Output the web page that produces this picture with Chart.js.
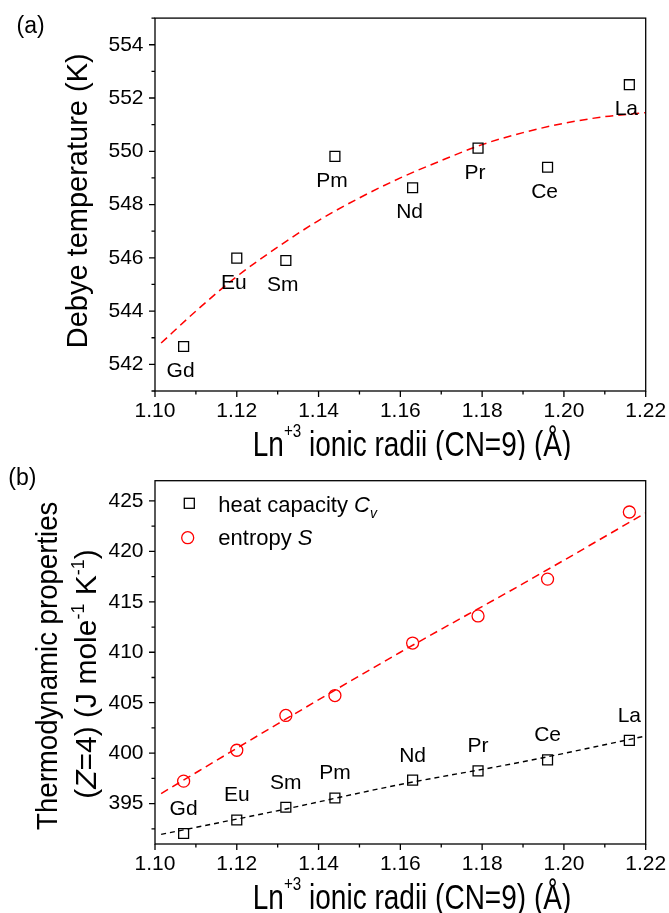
<!DOCTYPE html>
<html>
<head>
<meta charset="utf-8">
<script src="https://cdn.jsdelivr.net/npm/chart.js@4.4.1/dist/chart.umd.min.js"></script>
<style>
    html, body { margin: 0; padding: 0; background: #fff; }
    #wrap { position: relative; width: 669px; height: 913px; overflow: hidden; }
    canvas { position: absolute; left: 0; }
    #debyeChart { top: 0; }
    #thermoChart { top: 450px; }
</style>
</head>
<body>
<div id="wrap">
    <canvas id="debyeChart" width="669" height="460"></canvas>
    <canvas id="thermoChart" width="669" height="463"></canvas>
</div>
<script>
const elements = ['Gd', 'Eu', 'Sm', 'Pm', 'Nd', 'Pr', 'Ce', 'La'];
const ionicRadii = [1.107, 1.120, 1.132, 1.144, 1.163, 1.179, 1.196, 1.216];

// panel (a)
const debyeTemp = [542.67, 545.99, 545.90, 549.81, 548.63, 550.12, 549.40, 552.50];
const debyeFitRadii = [1.1015, 1.11, 1.12, 1.13, 1.14, 1.15, 1.16, 1.17, 1.18, 1.19, 1.20, 1.21, 1.22];
const debyeFit = [542.8, 544.0, 545.3, 546.4, 547.4, 548.25, 549.0, 549.65, 550.25, 550.7, 551.05, 551.3, 551.45];

// panel (b)
const heatCapacity = [392.04, 393.38, 394.64, 395.56, 397.33, 398.25, 399.34, 401.27];
const entropy = [397.23, 400.29, 403.74, 405.71, 410.91, 413.60, 417.25, 423.90];
const thermoFitRadii = [1.1015, 1.13, 1.16, 1.19, 1.22];
const heatFit = [391.95, 394.3, 396.9, 399.15, 401.7];
const entropyFit = [396.0, 402.9, 410.0, 416.8, 423.8];

const FONT = "'Liberation Sans', Arial, Helvetica, sans-serif";
const RED = '#ff0000';

function font(size, italic) {
    return (italic ? 'italic ' : '') + size + 'px ' + FONT;
}

function pts(xs, ys) {
    return xs.map((x, i) => ({ x: x, y: ys[i] }));
}

// runs: [text, size, italic, dy]
function drawRuns(ctx, runs, x, y, align, sx) {
    sx = sx || 1;
    let w = 0;
    runs.forEach(r => { ctx.font = font(r[1], r[2]); w += ctx.measureText(r[0]).width; });
    ctx.save();
    ctx.translate(x, y);
    ctx.scale(sx, 1);
    let cx = align === 'center' ? -w / 2 : 0;
    ctx.textAlign = 'left';
    ctx.textBaseline = 'alphabetic';
    ctx.fillStyle = '#000';
    runs.forEach(r => {
        ctx.font = font(r[1], r[2]);
        ctx.fillText(r[0], cx, r[3] || 0);
        cx += ctx.measureText(r[0]).width;
    });
    ctx.restore();
}

// box + outward major/minor ticks
const framePlugin = {
    id: 'frame',
    afterDraw(chart) {
        const { ctx, chartArea: a, scales: { x, y } } = chart;
        ctx.save();
        ctx.strokeStyle = '#000';
        ctx.lineWidth = 1.3;
        ctx.strokeRect(a.left, a.top, a.right - a.left, a.bottom - a.top);
        ctx.beginPath();
        x.ticks.forEach(t => {
            const px = x.getPixelForValue(t.value);
            ctx.moveTo(px, a.bottom);
            ctx.lineTo(px, a.bottom + (t.label !== '' ? 6 : 3.5));
        });
        y.ticks.forEach(t => {
            const py = y.getPixelForValue(t.value);
            ctx.moveTo(a.left, py);
            ctx.lineTo(a.left - (t.label !== '' ? 6 : 3.5), py);
        });
        ctx.stroke();

        // x title
        drawRuns(ctx, [['Ln', 35], ['+3', 19, false, -19], [' ionic radii (CN=9) (\u00c5)', 35]],
            412, a.bottom + 64.5, 'center', 0.8);
        ctx.restore();
    }
};

function xScale() {
    return {
        type: 'linear', min: 1.10, max: 1.22,
        grid: { display: false, drawTicks: true, tickLength: 6 },
        border: { display: false },
        ticks: {
            stepSize: 0.01, autoSkip: false, maxRotation: 0, padding: 2,
            color: '#000', font: { family: FONT, size: 21 },
            callback: v => (Math.round(v * 100) % 2 === 0 ? v.toFixed(2) : '')
        },
        afterFit: s => { s.height = 69; }
    };
}

function yScale(min, max, step, major) {
    return {
        type: 'linear', min: min, max: max,
        grid: { display: false, drawTicks: true, tickLength: 6 },
        border: { display: false },
        ticks: {
            stepSize: step, includeBounds: false, autoSkip: false, padding: 5.5,
            color: '#000', font: { family: FONT, size: 21 },
            callback: v => (Math.abs(v / major - Math.round(v / major)) < 1e-6 ? String(v) : '')
        },
        afterFit: s => { s.width = 155; }
    };
}

const baseOptions = {
    responsive: false,
    animation: false,
    plugins: { legend: { display: false }, tooltip: { enabled: false } }
};

// ---------- panel (a) ----------
const debyeText = {
    id: 'debyeText',
    afterDraw(chart) {
        const ctx = chart.ctx;
        const meta = chart.getDatasetMeta(0);
        ctx.save();
        ctx.fillStyle = '#000';
        ctx.font = font(21);
        ctx.textAlign = 'center';
        ctx.textBaseline = 'alphabetic';
        meta.data.forEach((p, i) => ctx.fillText(elements[i], p.x - 3, p.y + 30.5));

        drawRuns(ctx, [['(a)', 23]], 16.5, 32.5, 'left');

        ctx.translate(87.3, 200.8);
        ctx.rotate(-Math.PI / 2);
        drawRuns(ctx, [['Debye temperature (K)', 29]], 0, 0, 'center');
        ctx.restore();
    }
};

new Chart(document.getElementById('debyeChart'), {
    type: 'scatter',
    data: {
        datasets: [{
            data: pts(ionicRadii, debyeTemp),
            pointStyle: 'rect', pointRadius: 7, borderWidth: 1.3,
            borderColor: '#000', backgroundColor: 'rgba(0,0,0,0)'
        }, {
            data: pts(debyeFitRadii, debyeFit),
            showLine: true, pointRadius: 0, borderColor: RED, borderWidth: 1.5,
            borderDash: [8, 5], cubicInterpolationMode: 'monotone'
        }]
    },
    options: Object.assign({}, baseOptions, {
        layout: { padding: { left: 0, right: 23.3, top: 16.7, bottom: 0 } },
        scales: { x: xScale(), y: yScale(541, 555, 1, 2) }
    }),
    plugins: [framePlugin, debyeText]
});

// ---------- panel (b) ----------
const thermoText = {
    id: 'thermoText',
    afterDraw(chart) {
        const ctx = chart.ctx;
        const a = chart.chartArea;
        const meta = chart.getDatasetMeta(0);
        ctx.save();
        ctx.fillStyle = '#000';
        ctx.font = font(21);
        ctx.textAlign = 'center';
        ctx.textBaseline = 'alphabetic';
        meta.data.forEach((p, i) => ctx.fillText(elements[i], p.x, p.y - 18.5));

        // legend
        ctx.lineWidth = 1.3;
        ctx.strokeStyle = '#000';
        ctx.strokeRect(a.left + 34.3 - 5, a.top + 22.6 - 5, 10, 10);
        ctx.strokeStyle = RED;
        ctx.beginPath();
        ctx.arc(a.left + 32.7, a.top + 57, 6, 0, Math.PI * 2);
        ctx.stroke();
        drawRuns(ctx, [['heat capacity ', 22], ['C', 22, true], ['v', 14, true, 6]], a.left + 63.3, a.top + 31, 'left');
        drawRuns(ctx, [['entropy ', 22], ['S', 22, true]], a.left + 63.3, a.top + 64.3, 'left');

        drawRuns(ctx, [['(b)', 23]], 8.3, 35, 'left');

        ctx.save();
        ctx.translate(57.3, 215.8);
        ctx.rotate(-Math.PI / 2);
        drawRuns(ctx, [['Thermodynamic properties', 30]], 0, 0, 'center', 0.92);
        ctx.restore();

        ctx.translate(96, 224);
        ctx.rotate(-Math.PI / 2);
        drawRuns(ctx, [['(', 30], ['Z', 30, true], ['=4) (J mole', 30], ['-1', 18, false, -12],
            [' K', 30], ['-1', 18, false, -12], [')', 30]], 0, 0, 'center');
        ctx.restore();
    }
};

new Chart(document.getElementById('thermoChart'), {
    type: 'scatter',
    data: {
        datasets: [{
            data: pts(ionicRadii, heatCapacity),
            pointStyle: 'rect', pointRadius: 7, borderWidth: 1.3,
            borderColor: '#000', backgroundColor: 'rgba(0,0,0,0)'
        }, {
            data: pts(ionicRadii, entropy),
            pointStyle: 'circle', pointRadius: 6, borderWidth: 1.3,
            borderColor: RED, backgroundColor: 'rgba(0,0,0,0)'
        }, {
            data: pts(thermoFitRadii, heatFit),
            showLine: true, pointRadius: 0, borderColor: '#000', borderWidth: 1.4,
            borderDash: [5, 4], cubicInterpolationMode: 'monotone'
        }, {
            data: pts(thermoFitRadii, entropyFit),
            showLine: true, pointRadius: 0, borderColor: RED, borderWidth: 1.5,
            borderDash: [8, 5], cubicInterpolationMode: 'monotone'
        }]
    },
    options: Object.assign({}, baseOptions, {
        layout: { padding: { left: 0, right: 23.3, top: 30.7, bottom: 0 } },
        scales: { x: xScale(), y: yScale(391, 427, 2.5, 5) }
    }),
    plugins: [framePlugin, thermoText]
});
</script>
</body>
</html>
